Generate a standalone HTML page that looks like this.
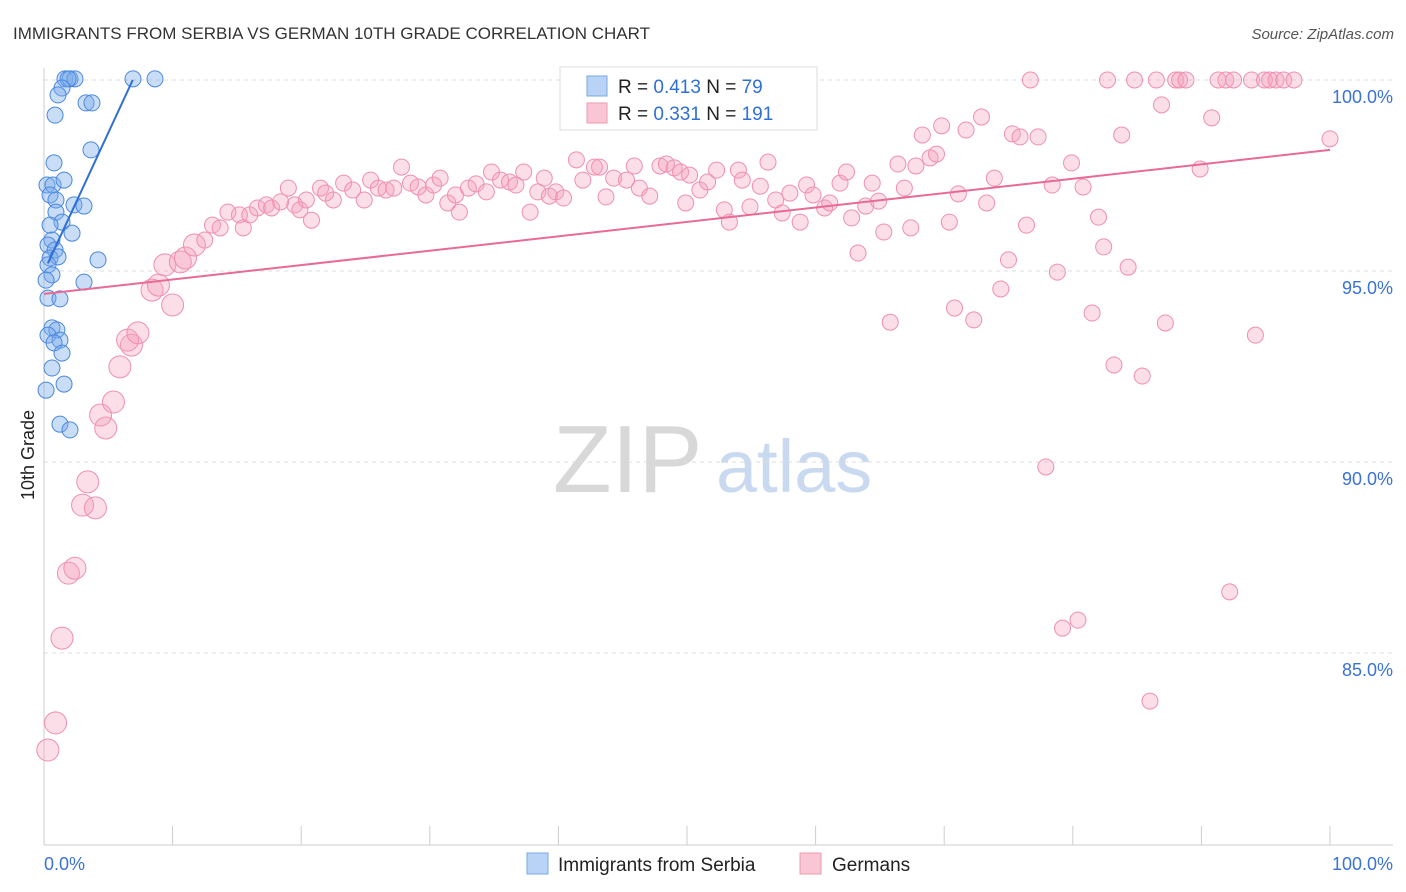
<!DOCTYPE html>
<html><head><meta charset="utf-8">
<style>
body{margin:0;background:#fff;font-family:"Liberation Sans",sans-serif;}
#wrap{position:relative;width:1406px;height:892px;overflow:hidden;}
svg text{font-family:"Liberation Sans",sans-serif;}
</style></head>
<body>
<div id="wrap">
<svg id="chart" width="1406" height="892">
<text x="13" y="39" font-size="17" fill="#333">IMMIGRANTS FROM SERBIA VS GERMAN 10TH GRADE CORRELATION CHART</text>
<text x="1394" y="39" font-size="15" fill="#555" font-style="italic" text-anchor="end">Source: ZipAtlas.com</text>
<g>
<text x="553" y="492" font-size="96" font-family="Liberation Serif,serif" fill="#d8d8d8">ZIP</text>
<text x="716" y="492" font-size="74" fill="#c9daf0">atlas</text>
</g>
<g id="grid"></g>
<g id="axes"></g>
<g id="pink"></g>
<g id="blue"></g>
<g id="trends"></g>
<text transform="translate(34,455) rotate(-90)" font-size="18" fill="#222" text-anchor="middle">10th Grade</text>
<g>
<rect x="560" y="67" width="257" height="63" fill="#fff" stroke="#ddd"/>
<rect x="587" y="76" width="20" height="20" fill="#b8d3f5" stroke="#7aa8e8"/>
<text x="618" y="93" font-size="19" fill="#222">R = <tspan fill="#2f6fd6">0.413</tspan>   N = <tspan fill="#2f6fd6">79</tspan></text>
<rect x="587" y="103" width="20" height="20" fill="#f8c6d4" stroke="#ee9ab2"/>
<text x="618" y="120" font-size="19" fill="#222">R = <tspan fill="#2f6fd6">0.331</tspan>   N = <tspan fill="#2f6fd6">191</tspan></text>
</g>
<g>
<rect x="527" y="853" width="21" height="21" fill="#b8d3f5" stroke="#7aa8e8"/>
<text x="558" y="871" font-size="19" fill="#222">Immigrants from Serbia</text>
<rect x="800" y="853" width="21" height="21" fill="#f8c6d4" stroke="#ee9ab2"/>
<text x="832" y="871" font-size="19" fill="#222">Germans</text>
</g>
</svg>
</div>
<script>
const yTicks=[100,95,90,85];
const yTickLabels=["100.0%","95.0%","90.0%","85.0%"];
const xTickCount=[0,10,20,30,40,50,60,70,80,90,100];
const xEndLabels=["0.0%","100.0%"];
const blueX=[1.63,2.02,2.41,1.87,6.92,8.63,1.4,1.09,3.27,3.73,0.86,3.65,0.78,0.23,0.7,1.56,0.47,0.93,2.33,3.11,0.93,1.4,2.18,0.62,0.31,0.86,0.47,1.09,4.2,0.31,0.62,3.11,0.31,1.24,0.62,1.0,0.31,1.24,0.78,1.4,0.62,1.56,0.16,1.24,2.02,0.47,0.16];
const blueY=[100.03,100.03,100.03,100.03,100.03,100.03,99.79,99.61,99.4,99.4,99.08,98.17,97.83,97.25,97.25,97.38,96.99,96.86,96.73,96.7,96.54,96.28,95.99,95.81,95.68,95.55,95.34,95.37,95.29,95.16,94.9,94.71,94.29,94.27,93.51,93.46,93.32,93.19,93.12,92.85,92.46,92.04,91.88,90.99,90.84,96.2,94.76];
const pinkX=[0.3,0.9,1.4,1.9,2.4,3.0,4.0,3.4,4.8,4.4,5.4,5.9,6.8,6.5,7.3,8.4,8.9,10.0,9.4,10.6,11.0,11.7,12.5,13.1,13.7,14.3,15.2,15.5,16.0,16.6,17.3,17.7,18.4,19.5,19.9,20.8,19.0,20.4,21.5,21.9,22.5,23.3,24.0,24.9,25.4,26.0,26.6,27.2,27.8,28.5,29.1,29.7,30.3,30.8,31.4,32.0,32.3,33.0,33.6,34.4,34.8,35.5,36.2,36.7,37.3,37.8,38.4,38.9,39.3,39.8,40.4,41.4,41.9,42.8,43.2,43.7,44.3,45.3,45.9,46.3,47.1,47.9,48.4,49.0,49.5,50.2,49.9,51.0,51.6,52.3,52.9,53.3,54.0,54.3,54.9,55.7,56.3,56.9,57.4,58.0,58.8,59.3,59.8,60.7,61.1,61.9,62.4,62.8,63.3,63.9,64.4,64.9,65.3,65.8,66.4,66.9,67.4,67.8,68.3,68.9,69.4,69.8,70.4,70.8,71.1,71.7,72.3,72.9,73.3,73.9,75.0,74.4,75.3,75.9,76.4,77.3,76.7,77.9,78.4,78.8,79.2,79.9,80.4,80.8,81.5,82.0,82.4,82.7,83.2,83.8,84.3,84.8,85.4,86.0,86.5,86.9,87.2,88.0,88.3,88.8,89.9,90.8,91.3,91.9,92.2,92.5,93.9,94.2,94.9,95.3,95.8,96.4,97.2,100.0];
const pinkY=[82.46,83.17,85.39,87.09,87.22,88.87,88.8,89.48,90.89,91.23,91.57,92.49,93.06,93.19,93.38,94.5,94.63,94.11,95.16,95.24,95.34,95.68,95.81,96.2,96.13,96.54,96.47,96.13,96.47,96.65,96.73,96.65,96.81,96.73,96.6,96.33,97.17,96.86,97.17,97.04,96.86,97.3,97.12,96.86,97.38,97.17,97.12,97.17,97.72,97.3,97.2,96.99,97.25,97.43,96.78,96.99,96.54,97.17,97.28,97.07,97.59,97.38,97.33,97.25,97.59,96.54,97.07,97.43,96.96,97.07,96.91,97.91,97.38,97.72,97.72,96.94,97.43,97.38,97.75,97.17,96.96,97.75,97.8,97.7,97.59,97.51,96.78,97.12,97.33,97.64,96.6,96.28,97.64,97.38,96.68,97.22,97.85,96.86,96.52,97.04,96.28,97.25,96.99,96.65,96.78,97.3,97.59,96.39,95.47,96.7,97.3,96.83,96.02,93.66,97.8,97.17,96.13,97.75,98.56,97.96,98.06,98.8,96.28,94.03,97.02,98.69,93.72,99.03,96.78,97.43,95.29,94.53,98.59,98.51,96.2,98.51,100.0,89.87,97.25,94.97,85.65,97.83,85.86,97.2,93.9,96.41,95.63,100.0,92.54,98.56,95.1,100.0,92.25,83.74,100.0,99.35,93.64,100.0,100.0,100.0,97.67,99.01,100.0,100.0,86.6,100.0,100.0,93.32,100.0,100.0,100.0,100.0,100.0,98.46];
const blueTrend=[[0.3,95.2],[6.9,100.0]];
const pinkTrend=[[0,94.4],[100,98.17]];

const X0=44,X1=1330;
function xs(v){return X0+(X1-X0)*v/100;}
function ys(v){return 80+(100-v)*38.2;}
const NS="http://www.w3.org/2000/svg";
function mk(tag,attrs,parent){const e=document.createElementNS(NS,tag);for(const k in attrs)e.setAttribute(k,attrs[k]);parent.appendChild(e);return e;}
const grid=document.getElementById('grid'),axes=document.getElementById('axes');
yTicks.forEach((t,i)=>{
  const l=mk('line',{x1:44,x2:1393,y1:ys(t),y2:ys(t),stroke:'#ddd','stroke-dasharray':'4,4'},grid);
  
  
  const tx=mk('text',{x:1393,y:ys(t)+23,'font-size':18,fill:'#3a72d8','text-anchor':'end'},axes);
  tx.textContent=yTickLabels[i];
  
  
});
const yl=mk('line',{x1:44,x2:44,y1:68,y2:845,stroke:'#ccc'},axes);


const xl=mk('line',{x1:44,x2:1393,y1:845,y2:845,stroke:'#ccc'},axes);


xTickCount.forEach(t=>{
  const l=mk('line',{x1:xs(t),x2:xs(t),y1:826,y2:845,stroke:'#ccc'},axes);
  
  
});
const xa=mk('text',{x:44,y:870,'font-size':18,fill:'#3a72d8'},axes);
xa.textContent=xEndLabels[0];


const xb=mk('text',{x:1393,y:870,'font-size':18,fill:'#3a72d8','text-anchor':'end'},axes);
xb.textContent=xEndLabels[1];



const pg=document.getElementById('pink');
pinkX.forEach((x,i)=>{
  const c=mk('circle',{cx:xs(x),cy:ys(pinkY[i]),r:x<12?11:8,fill:'rgba(244,160,188,0.35)',stroke:'#f08fb0','stroke-width':1},pg);
  
  
});
const bg=document.getElementById('blue');
blueX.forEach((x,i)=>{
  const c=mk('circle',{cx:xs(x),cy:ys(blueY[i]),r:8,fill:'rgba(120,170,235,0.4)',stroke:'#4a88e0','stroke-width':1},bg);
  
  
});
const tg=document.getElementById('trends');
const bt=mk('line',{x1:xs(blueTrend[0][0]),y1:ys(blueTrend[0][1]),x2:xs(blueTrend[1][0]),y2:ys(blueTrend[1][1]),stroke:'#2f6fd6','stroke-width':2},tg);


const pt=mk('line',{x1:xs(pinkTrend[0][0]),y1:ys(pinkTrend[0][1]),x2:xs(pinkTrend[1][0]),y2:ys(pinkTrend[1][1]),stroke:'#e86a95','stroke-width':2},tg);


</script>
</body></html>
